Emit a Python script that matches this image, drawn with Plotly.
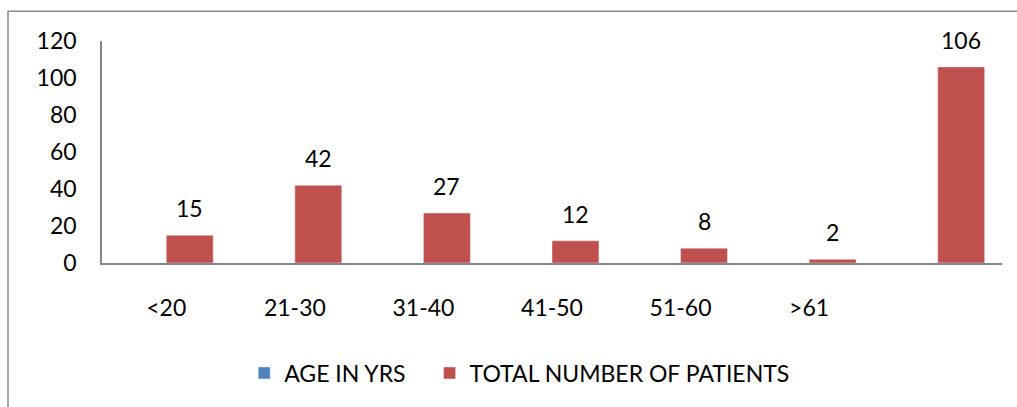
import plotly.graph_objects as go

categories = ["<20", "21-30", "31-40", "41-50", "51-60", ">61", ""]
age_in_yrs = [None, None, None, None, None, None, None]
total_patients = [15, 42, 27, 12, 8, 2, 106]
y_ticks = [0, 20, 40, 60, 80, 100, 120]

FONT = "Lato"
FS = 23
BLUE = "#4F81BD"
RED = "#C0504D"
AXIS = "#868686"

pos = list(range(len(categories)))

fig = go.Figure()
fig.add_trace(go.Bar(x=pos, y=age_in_yrs, name="AGE IN YRS", marker_color=BLUE,
                     legend="legend"))
fig.add_trace(go.Bar(x=pos, y=total_patients, name="TOTAL NUMBER OF PATIENTS",
                     marker_color=RED, legend="legend2"))

bargap = 0.27
half = (1 - bargap) / 4
for i, v in zip(pos, total_patients):
    fig.add_annotation(x=i + half, y=v, xref="x", yref="y", text=str(v),
                       showarrow=False, yanchor="bottom", yshift=11,
                       font=dict(family=FONT, size=FS, color="#000000"))

# outer chart frame
fig.add_shape(type="rect", xref="paper", yref="paper",
              x0=(8 - 102) / 900, x1=1.2, y0=-0.8, y1=(265 - 11) / 224,
              line=dict(color="#8c8c8c", width=1.5), fillcolor="rgba(0,0,0,0)",
              layer="below")

leg_common = dict(orientation="h", xanchor="left",
                  y=(265 - 376) / 224, yanchor="middle",
                  font=dict(family=FONT, size=FS, color="#000000"),
                  bgcolor="rgba(0,0,0,0)")

fig.update_layout(
    width=1017, height=407,
    margin=dict(l=102, r=15, t=41, b=142),
    paper_bgcolor="white", plot_bgcolor="white",
    barmode="group", bargap=bargap, bargroupgap=0,
    font=dict(family=FONT, size=FS, color="#000000"),
    showlegend=True,
    legend=dict(x=0.158, **leg_common),
    legend2=dict(x=0.364, **leg_common),
    xaxis=dict(range=[-0.5, len(categories) - 0.5], tickmode="array",
               tickvals=pos, ticktext=categories, showgrid=False,
               zeroline=False, showline=True, linecolor=AXIS, linewidth=1.5,
               ticks="", ticklabelstandoff=24, fixedrange=True),
    yaxis=dict(range=[0, 120], tickmode="array", tickvals=y_ticks,
               showgrid=False, zeroline=False, showline=True, linecolor=AXIS,
               linewidth=1.5, ticks="", ticklabelstandoff=19, fixedrange=True),
)

fig.write_html("out.html")
